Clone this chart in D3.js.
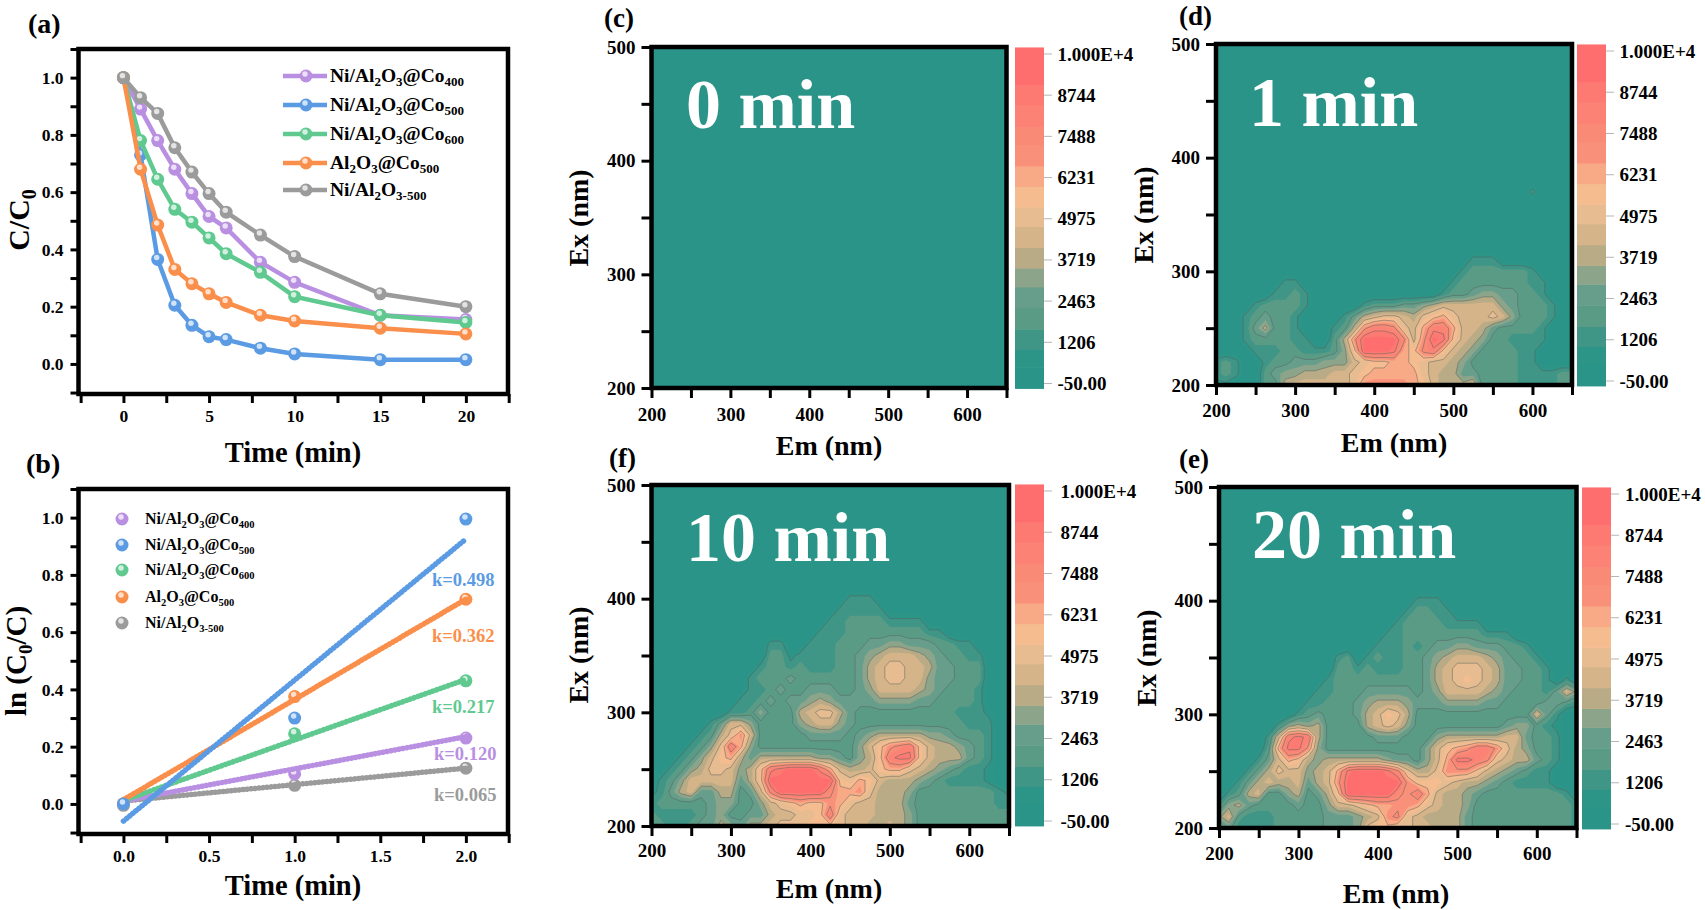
<!DOCTYPE html>
<html>
<head>
<meta charset="utf-8">
<script src="https://cdn.jsdelivr.net/npm/d3@7"></script>
<style>
  html, body { margin: 0; background: #fff; }
  text { font-family: "Liberation Serif", serif; font-weight: bold; fill: #000; }
</style>
</head>
<body>
<svg id="stage" width="1705" height="910"></svg>
<script>
/* ---------- data ---------- */

const series_names = ["Ni/Al_2O_3@Co_400", "Ni/Al_2O_3@Co_500", "Ni/Al_2O_3@Co_600", "Al_2O_3@Co_500", "Ni/Al_2O_3-500"];
const series_colors = ["#b98fe2", "#5b9be3", "#5fc98f", "#fa8f4b", "#9b9b9b"];

// panel a
const decay_time = [0, 1, 2, 3, 4, 5, 6, 8, 10, 15, 20];
const decay_400 = [1.0, 0.89, 0.78, 0.68, 0.595, 0.515, 0.475, 0.355, 0.285, 0.17, 0.155];
const decay_500 = [1.0, 0.73, 0.365, 0.205, 0.135, 0.095, 0.085, 0.055, 0.035, 0.015, 0.015];
const decay_600 = [1.0, 0.78, 0.645, 0.54, 0.495, 0.44, 0.385, 0.32, 0.235, 0.17, 0.145];
const decay_al = [1.0, 0.68, 0.485, 0.33, 0.28, 0.245, 0.215, 0.17, 0.15, 0.125, 0.105];
const decay_gray = [1.0, 0.93, 0.875, 0.755, 0.67, 0.595, 0.53, 0.45, 0.375, 0.245, 0.2];

// panel b
const kinetic_time = [0, 1, 2];
const kinetic_400 = [0, 0.105, 0.23];
const kinetic_500 = [0, 0.3, 0.995];
const kinetic_600 = [0, 0.245, 0.43];
const kinetic_al = [0, 0.375, 0.715];
const kinetic_gray = [-0.005, 0.065, 0.125];
const fit_time = [0, 2];
const fit_400 = [0.01, 0.235];
const fit_500 = [-0.06, 0.925];
const fit_600 = [0.012, 0.435];
const fit_al = [0.015, 0.715];
const fit_gray = [0.01, 0.125];
const k_labels = ["k=0.120", "k=0.498", "k=0.217", "k=0.362", "k=0.065"];

// colour bar of the EEM maps
const bar_ticks = [-50, 1206, 2463, 3719, 4975, 6231, 7488, 8744, 10000];
const bar_tick_labels = ["-50.00", "1206", "2463", "3719", "4975", "6231", "7488", "8744", "1.000E+4"];
const band_edges = [-200, 450, 1000, 1608, 2260, 2895, 3470, 4100, 4740, 5330, 5960, 6590, 7240, 7790, 8450, 9050, 10200];
const band_colors = ["#2b9488", "#2d9488", "#3f9586", "#5a9b86", "#669e8b", "#8ba48a", "#b9ab86", "#d5b48a",
  "#e7bc90", "#f5bc90", "#f8a985", "#f99079", "#f98a76", "#fb8274", "#fd7a72", "#ff6e6e"];

// band index, 0-f. columns Em 200..650 step 12.5, rows end at Ex 200, step 10
const map_0min = [];
const map_1min = [
  "0000000000|0000000000|0000000000|0020000",
  "", "", "", "", "",
  "0000000000|0000000000|0000002220|0000000",
  "0000000000|0000000000|0000023333|3320000",
  "0000000220|0000000000|0000233333|3322000",
  "0000002232|0000000000|0002334554|4332000",
  "0000233332|0000023334|4567777775|4333200",
  "0002343320|0002467887|689a877787|5333200",
  "0002463320|00236bddc8|7adda77643|3332000",
  "0002333322|0036bffffc|7bfe976533|2222000",
  "0000222332|22359fffea|9cd9765333|3220000",
  "2320023344|45557899aa|9877653333|3220000",
  "2320034556|667789aaaa|a876644333|3222233",
  "1100033677|77778bbbbb|a976667333|3222233"
];
const map_10min = [
  "0000000000|0000000000|2220000000|0000000",
  "0000000000|0000000002|2222000000|0000000",
  "0000000000|0000000022|3333222200|0000000",
  "0000000000|0000000222|3333333322|0000000",
  "0000000000|0022002223|3344554443|3220000",
  "0000000000|0033122223|3456777654|3322000",
  "0000000000|0233232223|3467887764|4333000",
  "0000000000|2333433333|3467887754|4333000",
  "0000000000|2234334443|3457777654|3332000",
  "0000000002|2343445654|4445555443|3332000",
  "0000000022|3533367886|4333333333|3222100",
  "0000002477|5333356775|4333333333|3322200",
  "000002368b|7333334444|3456666655|4333200",
  "00002358da|5333333333|3579bcd976|6543200",
  "00023579a6|4666666554|3569dee976|6643200",
  "0023568875|69defffda7|6679aa8765|4322100",
  "0235777774|69fffffff9|8a97666543|2222100",
  "1246744663|47cfffffca|ab86665333|3333321",
  "2333334553|35789a99ba|8776664333|3333322",
  "3222234533|44677889d8|7776665333|3333333",
  "3322344654|6678889998|7766765333|3333333"
];
const map_20min = [
  "0000000000|0000000000|2220000000|0000000",
  "0000000000|0000000002|3322000000|0000000",
  "0000000000|0000000023|3332222000|0000000",
  "0000000000|0000000223|3333333222|0000000",
  "0000000000|0000002223|2344554443|3200000",
  "0000000000|0023023223|3456777654|3320000",
  "0000000000|0033232223|3467888764|4332000",
  "0000000000|0233333333|3467898764|4332020",
  "0000000000|2233344444|3457777654|3332475",
  "0000000002|2333456665|4445555443|3334432",
  "0000000023|4333467986|3333333333|3374200",
  "0000002565|6333367875|3333333334|5532100",
  "0000027ded|6333334443|3356666667|7433200",
  "000003aeeb|5333333333|3579abddb8|6533200",
  "0000247a96|5666666544|357aeedc87|6643200",
  "0002468775|67aefffec8|668bbb9765|4322000",
  "0024676674|67bffffffb|9998766543|2222000",
  "0236733563|469fffffcb|da76654333|3333320",
  "2564333343|357789aabb|a876653333|3333332",
  "5732223333|3444567bc8|7666643333|3333332",
  "3422223333|3444589988|7766643333|3333332"
];
const map_times = ["0 min", "1 min", "10 min", "20 min"];
const map_letters = ["(c)", "(d)", "(f)", "(e)"];

const em_ticks = [200, 250, 300, 350, 400, 450, 500, 550, 600, 650];
const ex_ticks = [200, 250, 300, 350, 400, 450, 500];

/* ---------- setup ---------- */

const svg = d3.select("#stage");
const ink = "#000";
const defs = svg.append("defs");

// writes "Al_2O_3" with the part after each _ as a subscript
function rich_text(parent, str, x, y, size, sub_size, anchor) {
  const t = parent.append("text")
    .attr("x", x).attr("y", y)
    .attr("font-size", size)
    .attr("text-anchor", anchor || "start");
  const parts = str.split(/_([0-9-]+)/);
  const shift = size * 0.22;
  let down = false;
  parts.forEach((p, i) => {
    const is_sub = i % 2 === 1;
    if (!p) return;
    const span = t.append("tspan").text(p);
    if (is_sub) {
      span.attr("font-size", sub_size).attr("dy", shift);
      down = true;
    } else if (down) {
      span.attr("dy", -shift);
      down = false;
    }
  });
  return t;
}

function style_axis(g, font_size) {
  g.select(".domain").remove();
  g.selectAll(".tick line").attr("stroke", ink).attr("stroke-width", 3);
  g.selectAll(".tick text")
    .attr("font-size", font_size)
    .attr("fill", ink)
    .attr("font-family", '"Liberation Serif", serif');
}

function draw_marker(g, x, y, color, r) {
  g.append("circle").attr("cx", x).attr("cy", y).attr("r", r).attr("fill", color);
  g.append("circle").attr("cx", x - 1).attr("cy", y - 2).attr("r", r * 0.42)
    .attr("fill", "#fff").attr("fill-opacity", 0.72);
}

function line_frame(box, x_dom, y_dom, x_vals, y_vals, x_fmt, y_fmt) {
  const x = d3.scaleLinear().domain(x_dom).range([box.left, box.right]);
  const y = d3.scaleLinear().domain(y_dom).range([box.bottom, box.top]);
  const g = svg.append("g");
  const x_axis = g.append("g")
    .attr("transform", `translate(0,${box.bottom})`)
    .call(d3.axisBottom(x).tickValues(x_vals).tickSize(9).tickPadding(7).tickFormat(x_fmt));
  style_axis(x_axis, 17.5);
  const y_axis = g.append("g")
    .attr("transform", `translate(${box.left},0)`)
    .call(d3.axisLeft(y).tickValues(y_vals).tickSize(8).tickPadding(7).tickFormat(y_fmt));
  style_axis(y_axis, 17.5);
  return { x, y, g };
}

function frame_rect(box) {
  svg.append("rect")
    .attr("x", box.left).attr("y", box.top)
    .attr("width", box.right - box.left).attr("height", box.bottom - box.top)
    .attr("fill", "none").attr("stroke", ink).attr("stroke-width", 4.5);
}

/* ---------- panel a ---------- */

const box_a = { left: 78.5, right: 508, top: 49, bottom: 394 };
const minor_y = d3.range(-1, 12).map(d => d / 10);
const major_y = [0, 2, 4, 6, 8, 10];

const a_fmt_x = d => Number.isInteger(d / 5) ? d : "";
const y_fmt = d => major_y.includes(Math.round(d * 10)) ? d.toFixed(1) : "";
const a = line_frame(box_a, [-2.625, 22.46], [-0.105, 1.1],
  [-2.5, 0, 2.5, 5, 7.5, 10, 12.5, 15, 17.5, 20, 22.5], minor_y, a_fmt_x, y_fmt);

const decay_sets = [decay_400, decay_500, decay_600, decay_al, decay_gray];
const decay_line = d3.line().x((d, i) => a.x(decay_time[i])).y(d => a.y(d));

decay_sets.forEach((vals, s) => {
  const layer = svg.append("g");
  layer.append("path").attr("d", decay_line(vals))
    .attr("fill", "none").attr("stroke", series_colors[s]).attr("stroke-width", 4.5);
  vals.forEach((v, i) => draw_marker(layer, a.x(decay_time[i]), a.y(v), series_colors[s], 6.5));
});
frame_rect(box_a);

const legend_a_y = [76, 105, 134, 163, 190];
series_names.forEach((name, s) => {
  const ly = legend_a_y[s];
  svg.append("line").attr("x1", 283).attr("x2", 327).attr("y1", ly).attr("y2", ly)
    .attr("stroke", series_colors[s]).attr("stroke-width", 4.5);
  draw_marker(svg, 306, ly, series_colors[s], 6.5);
  rich_text(svg, name, 330, ly + 6, 19.5, 13);
});

svg.append("text").attr("x", 28).attr("y", 33).attr("font-size", 28).text("(a)");
svg.append("text").attr("x", 293).attr("y", 462).attr("font-size", 28.5).attr("text-anchor", "middle").text("Time (min)");
rich_text(svg, "C/C_0", 0, 0, 30, 20, "middle").attr("transform", "translate(29,220) rotate(-90)");

/* ---------- panel b ---------- */

const box_b = { left: 78.5, right: 508, top: 489, bottom: 834 };
const b_fmt_x = d => Number.isInteger(d * 2) ? d.toFixed(1) : "";
const b = line_frame(box_b, [-0.2625, 2.246], [-0.105, 1.1],
  [-0.25, 0, 0.25, 0.5, 0.75, 1, 1.25, 1.5, 1.75, 2, 2.25], minor_y, b_fmt_x, y_fmt);

const fit_sets = [fit_400, fit_500, fit_600, fit_al, fit_gray];
const kinetic_sets = [kinetic_400, kinetic_500, kinetic_600, kinetic_al, kinetic_gray];
const fit_line = d3.line().x((d, i) => b.x(fit_time[i])).y(d => b.y(d));

// purple and gray stay under the others, as in the figure
[4, 0, 2, 3, 1].forEach(s => {
  const layer = svg.append("g");
  kinetic_sets[s].forEach((v, i) => draw_marker(layer, b.x(kinetic_time[i]), b.y(v), series_colors[s], 6.5));
  layer.append("path").attr("d", fit_line(fit_sets[s]))
    .attr("fill", "none").attr("stroke", series_colors[s]).attr("stroke-width", 5.5)
    .attr("stroke-linecap", "round").attr("stroke-dasharray", "0.5,3.5");
});
frame_rect(box_b);

const legend_b_y = [519, 545, 570, 597, 623];
series_names.forEach((name, s) => {
  draw_marker(svg, 122, legend_b_y[s], series_colors[s], 6.5);
  rich_text(svg, name, 145, legend_b_y[s] + 5, 16, 10.5);
});

const k_pos = [[434, 760], [432, 586], [432, 713], [432, 642], [434, 801]];
k_labels.forEach((label, s) => {
  svg.append("text").attr("x", k_pos[s][0]).attr("y", k_pos[s][1])
    .attr("font-size", 18.5).style("fill", series_colors[s]).text(label);
});

svg.append("text").attr("x", 26).attr("y", 473).attr("font-size", 28).text("(b)");
svg.append("text").attr("x", 293).attr("y", 895).attr("font-size", 28.5).attr("text-anchor", "middle").text("Time (min)");
rich_text(svg, "ln (C_0/C)", 0, 0, 29, 19, "middle").attr("transform", "translate(26,661) rotate(-90)");

/* ---------- EEM maps ---------- */

const n_cols = 37;
const n_rows = 31;
const thresholds = d3.range(1, 16).map(d => d - 0.5);

function grid_values(rows) {
  const blank = "0".repeat(n_cols);
  const clean = rows.map(r => r.replace(/\|/g, "").padEnd(n_cols, "0"));
  const full = d3.range(n_rows - clean.length).map(() => blank).concat(clean);
  const out = [];
  full.forEach(r => { for (let i = 0; i < n_cols; i++) out.push(parseInt(r[i], 16) || 0); });
  return out;
}

function draw_map(rows, lay, idx) {
  const x = d3.scaleLinear().domain([200, 650]).range([lay.left, lay.right]);
  const y = d3.scaleLinear().domain([200, 500]).range([lay.bottom, lay.top]);
  const clip_id = `clip-${idx}`;
  defs.append("clipPath").attr("id", clip_id).append("rect")
    .attr("x", lay.left).attr("y", lay.top)
    .attr("width", lay.right - lay.left).attr("height", lay.bottom - lay.top);

  const g = svg.append("g").attr("clip-path", `url(#${clip_id})`);
  g.append("rect")
    .attr("x", lay.left).attr("y", lay.top)
    .attr("width", lay.right - lay.left).attr("height", lay.bottom - lay.top)
    .attr("fill", band_colors[0]);

  const to_screen = d3.geoTransform({
    point(px, py) {
      this.stream.point(x(200 + 12.5 * (px - 0.5)), y(500 - 10 * (py - 0.5)));
    }
  });
  const path = d3.geoPath(to_screen);
  const field = grid_values(rows);
  const shapes = d3.contours().size([n_cols, n_rows]).thresholds(thresholds)(field);

  shapes.forEach((shape, i) => {
    if (!shape.coordinates.length) return;
    g.append("path").attr("d", path(shape))
      .attr("fill", band_colors[i + 1])
      .attr("stroke", i % 2 === 1 ? "rgba(85,95,90,0.6)" : "none")
      .attr("stroke-width", 0.8);
  });

  // axes
  const x_axis = svg.append("g").attr("transform", `translate(0,${lay.bottom})`)
    .call(d3.axisBottom(x).tickValues(em_ticks).tickSize(10).tickPadding(lay.tick_base - lay.bottom - 23.5)
      .tickFormat(d => d % 100 === 0 ? d : ""));
  style_axis(x_axis, 19);
  const y_axis = svg.append("g").attr("transform", `translate(${lay.left},0)`)
    .call(d3.axisLeft(y).tickValues(ex_ticks).tickSize(10).tickPadding(6)
      .tickFormat(d => d % 100 === 0 ? d : ""));
  style_axis(y_axis, 19);
  frame_rect(lay);

  // colour bar
  const bar = d3.scaleLinear().domain([-50, 10000]).range([lay.bar_bottom - 5, lay.bar_top + 7]);
  const bar_w = 29;
  const bar_g = svg.append("g");
  band_colors.forEach((c, i) => {
    bar_g.append("rect")
      .attr("x", lay.bar_x)
      .attr("y", bar(band_edges[i + 1]))
      .attr("width", bar_w)
      .attr("height", bar(band_edges[i]) - bar(band_edges[i + 1]) + 0.5)
      .attr("fill", c);
  });
  bar_ticks.forEach((v, i) => {
    bar_g.append("line")
      .attr("x1", lay.bar_x + bar_w).attr("x2", lay.bar_x + bar_w + 8)
      .attr("y1", bar(v)).attr("y2", bar(v))
      .attr("stroke", "#b5b5b5").attr("stroke-width", 1);
    bar_g.append("text").attr("x", lay.bar_label).attr("y", bar(v) + 6.5)
      .attr("font-size", 19).text(bar_tick_labels[i]);
  });

  // labels
  svg.append("text").attr("x", lay.time_x).attr("y", lay.time_y)
    .attr("font-size", 70).style("fill", "#fff").text(map_times[idx]);
  svg.append("text").attr("x", lay.em_x).attr("y", lay.em_y).attr("font-size", 28)
    .attr("text-anchor", "middle").text("Em (nm)");
  svg.append("text").attr("font-size", 28).attr("text-anchor", "middle")
    .attr("transform", `translate(${lay.ex_x},${lay.ex_y}) rotate(-90)`).text("Ex (nm)");
  svg.append("text").attr("x", lay.letter_x).attr("y", lay.letter_y).attr("font-size", 27).text(map_letters[idx]);
}

const map_layouts = [
  { left: 651.5, right: 1006.5, top: 47, bottom: 388, tick_base: 421, bar_x: 1015, bar_top: 47, bar_bottom: 388.5, bar_label: 1057.5,
    time_x: 686, time_y: 128, em_x: 829, em_y: 455, ex_x: 587.5, ex_y: 218, letter_x: 604, letter_y: 27 },
  { left: 1216, right: 1572, top: 44, bottom: 385, tick_base: 417, bar_x: 1577, bar_top: 44, bar_bottom: 386, bar_label: 1619.5,
    time_x: 1249, time_y: 126, em_x: 1394, em_y: 452, ex_x: 1153, ex_y: 215, letter_x: 1179, letter_y: 25 },
  { left: 651.5, right: 1009, top: 485, bottom: 826, tick_base: 857, bar_x: 1015, bar_top: 484, bar_bottom: 826, bar_label: 1060.5,
    time_x: 686, time_y: 561, em_x: 829, em_y: 898, ex_x: 587.5, ex_y: 655, letter_x: 609, letter_y: 467 },
  { left: 1219, right: 1576.5, top: 487, bottom: 828, tick_base: 860, bar_x: 1582, bar_top: 487, bar_bottom: 829, bar_label: 1625,
    time_x: 1252, time_y: 558, em_x: 1396, em_y: 903, ex_x: 1155.5, ex_y: 658, letter_x: 1179, letter_y: 468 }
];

[map_0min, map_1min, map_10min, map_20min].forEach((rows, i) => draw_map(rows, map_layouts[i], i));
</script>
</body>
</html>
